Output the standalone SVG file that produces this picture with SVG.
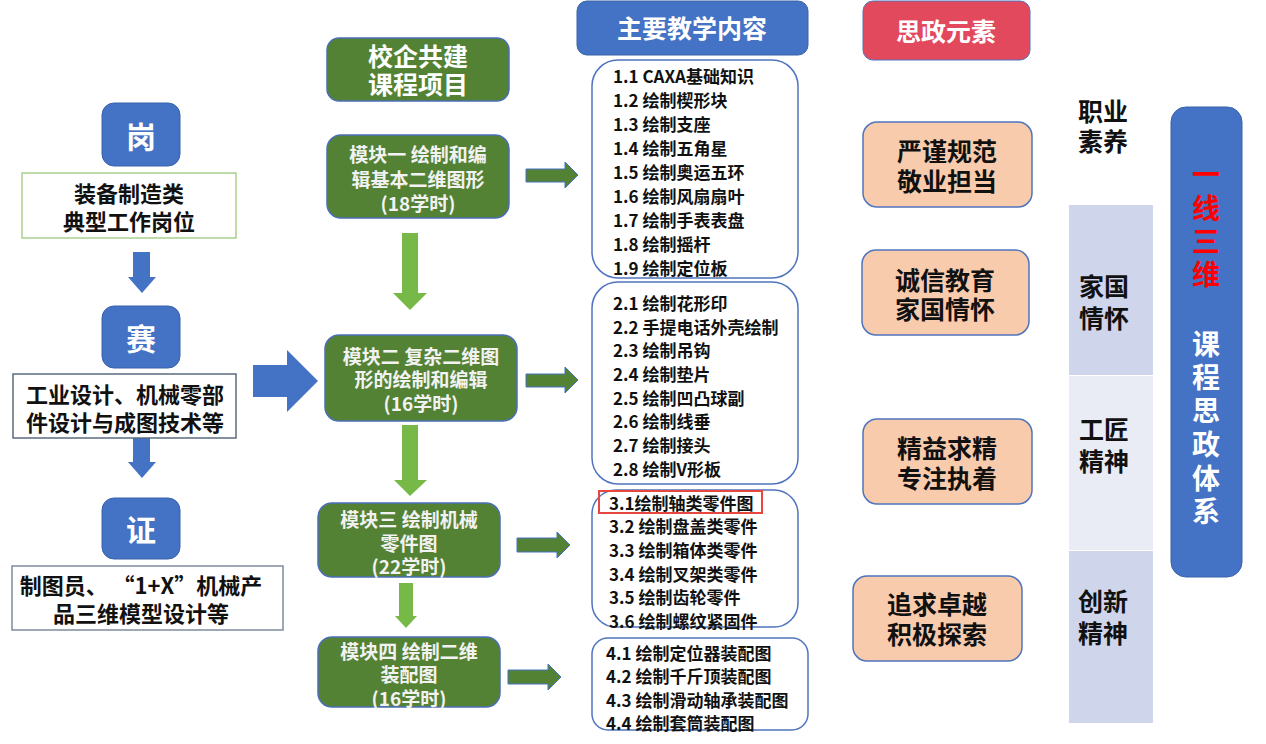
<svg xmlns="http://www.w3.org/2000/svg" width="1266" height="744" viewBox="0 0 1266 744">
<style>
text{font-family:"Noto Sans CJK SC","Microsoft YaHei",sans-serif;font-weight:bold;dominant-baseline:central}
.c{text-anchor:middle}
.bluebox{fill:#4472C4;stroke:#3A62AA;stroke-width:1}
.wt{fill:#FFFFFF}
.mod{fill:#548235;stroke:#4A6FB5;stroke-width:1.5}
.mt{fill:#F2F2F2;font-size:19px}
.hd{fill:#FFFFFF;font-size:25px}
.lst{fill:#FFFFFF;stroke:#4F74BD;stroke-width:1.5}
.lt{fill:#111111;font-size:17px}
.el{fill:#F8CBAD;stroke:#4F74BD;stroke-width:1.5}
.et{fill:#111111;font-size:25px}
.bt{fill:#111111;font-size:22px}
.ga{fill:#548235;stroke:#4472C4;stroke-width:1}
.la{fill:#76B947}
.ba{fill:#4472C4}
.vt{font-size:28px}
</style>

<g id="connectors">
  <polygon class="ba" points="133,252 150,252 150,277 156,277 142,293 128,277 133,277"/>
  <polygon class="ba" points="133,438 150,438 150,462 156,462 142,478 128,462 133,462"/>
  <polygon class="ba" points="253,365 287,365 287,350 318,381 287,412 287,397 253,397"/>
  <polygon class="la" points="402,233 418,233 418,293 427,293 410,310 393,293 402,293"/>
  <polygon class="la" points="402,425 418,425 418,480 427,480 410,496 394,480 402,480"/>
  <polygon class="la" points="399,583 413,583 413,616 417,616 406,628 395,616 399,616"/>
  <polygon class="ga" points="526,169 565,169 565,162 578,175 565,188 565,182 526,182"/>
  <polygon class="ga" points="526,374 565,374 565,367 578,380 565,393 565,387 526,387"/>
  <polygon class="ga" points="517,538 557,538 557,532 570,545 557,558 557,552 517,552"/>
  <polygon class="ga" points="508,670 548,670 548,664 561,677 548,690 548,684 508,684"/>
</g>

<g id="gang">
  <rect class="bluebox" x="102" y="103" width="78" height="63" rx="12"/>
  <text class="c wt" x="141" y="135" font-size="30">岗</text>
</g>
<g id="gang-desc">
  <rect x="22" y="173" width="214" height="65" fill="#FFFFFF" stroke="#A9D18E" stroke-width="1.5"/>
  <text class="c bt" x="129" y="192">装备制造类</text>
  <text class="c bt" x="129" y="220">典型工作岗位</text>
</g>
<g id="sai">
  <rect class="bluebox" x="102" y="306" width="78" height="62" rx="12"/>
  <text class="c wt" x="141" y="337" font-size="30">赛</text>
</g>
<g id="sai-desc">
  <rect x="13" y="374" width="223" height="64" fill="#FFFFFF" stroke="#5B6B80" stroke-width="1.5"/>
  <text class="c bt" x="125" y="393">工业设计、机械零部</text>
  <text class="c bt" x="125" y="421">件设计与成图技术等</text>
</g>
<g id="zheng">
  <rect class="bluebox" x="102" y="498" width="78" height="61" rx="12"/>
  <text class="c wt" x="141" y="528" font-size="30">证</text>
</g>
<g id="zheng-desc">
  <rect x="12" y="566" width="271" height="64" fill="#FFFFFF" stroke="#7F8C9C" stroke-width="1.5"/>
  <text class="c bt" x="141" y="584">制图员、 “1+X”机械产</text>
  <text class="c bt" x="141" y="612">品三维模型设计等</text>
</g>

<g id="xiaoqi">
  <rect class="mod" x="327" y="38" width="182" height="63" rx="12"/>
  <text class="c hd" x="418" y="55">校企共建</text>
  <text class="c hd" x="418" y="83">课程项目</text>
</g>
<g id="module1">
  <rect class="mod" x="327" y="135" width="182" height="83" rx="14"/>
  <text class="c mt" x="418" y="153">模块一 绘制和编</text>
  <text class="c mt" x="418" y="178">辑基本二维图形</text>
  <text class="c mt" x="418" y="202">(18学时)</text>
</g>
<g id="module2">
  <rect class="mod" x="325" y="335" width="192" height="86" rx="14"/>
  <text class="c mt" x="421" y="355">模块二 复杂二维图</text>
  <text class="c mt" x="421" y="378">形的绘制和编辑</text>
  <text class="c mt" x="421" y="402">(16学时)</text>
</g>
<g id="module3">
  <rect class="mod" x="318" y="503" width="182" height="74" rx="14"/>
  <text class="c mt" x="409" y="518">模块三 绘制机械</text>
  <text class="c mt" x="409" y="542">零件图</text>
  <text class="c mt" x="409" y="565">(22学时)</text>
</g>
<g id="module4">
  <rect class="mod" x="318" y="637" width="182" height="70" rx="14"/>
  <text class="c mt" x="409" y="650">模块四 绘制二维</text>
  <text class="c mt" x="409" y="673">装配图</text>
  <text class="c mt" x="409" y="697">(16学时)</text>
</g>

<g id="content-header">
  <rect class="bluebox" x="577" y="1" width="231" height="54" rx="10"/>
  <text class="c hd" x="692" y="27">主要教学内容</text>
</g>
<g id="list1">
  <rect class="lst" x="592" y="60" width="206" height="218" rx="26"/>
  <text class="lt" x="613" y="75">1.1 CAXA基础知识</text>
  <text class="lt" x="613" y="99">1.2 绘制楔形块</text>
  <text class="lt" x="613" y="123">1.3 绘制支座</text>
  <text class="lt" x="613" y="147">1.4 绘制五角星</text>
  <text class="lt" x="613" y="171">1.5 绘制奥运五环</text>
  <text class="lt" x="613" y="195">1.6 绘制风扇扇叶</text>
  <text class="lt" x="613" y="219">1.7 绘制手表表盘</text>
  <text class="lt" x="613" y="243">1.8 绘制摇杆</text>
  <text class="lt" x="613" y="267">1.9 绘制定位板</text>
</g>
<g id="list2">
  <rect class="lst" x="592" y="282" width="206" height="202" rx="26"/>
  <text class="lt" x="613" y="302">2.1 绘制花形印</text>
  <text class="lt" x="613" y="326">2.2 手提电话外壳绘制</text>
  <text class="lt" x="613" y="349">2.3 绘制吊钩</text>
  <text class="lt" x="613" y="373">2.4 绘制垫片</text>
  <text class="lt" x="613" y="397">2.5 绘制凹凸球副</text>
  <text class="lt" x="613" y="420">2.6 绘制线垂</text>
  <text class="lt" x="613" y="444">2.7 绘制接头</text>
  <text class="lt" x="613" y="468">2.8 绘制V形板</text>
</g>
<g id="list3">
  <rect class="lst" x="592" y="490" width="206" height="137" rx="24"/>
  <rect x="599" y="491" width="163" height="22" fill="none" stroke="#E8473F" stroke-width="2"/>
  <text class="lt" x="609" y="502">3.1绘制轴类零件图</text>
  <text class="lt" x="609" y="525">3.2 绘制盘盖类零件</text>
  <text class="lt" x="609" y="549">3.3 绘制箱体类零件</text>
  <text class="lt" x="609" y="573">3.4 绘制叉架类零件</text>
  <text class="lt" x="609" y="596">3.5 绘制齿轮零件</text>
  <text class="lt" x="609" y="620">3.6 绘制螺纹紧固件</text>
</g>
<g id="list4">
  <rect class="lst" x="592" y="638" width="216" height="92" rx="16"/>
  <text class="lt" x="606" y="652">4.1 绘制定位器装配图</text>
  <text class="lt" x="606" y="675">4.2 绘制千斤顶装配图</text>
  <text class="lt" x="606" y="699">4.3 绘制滑动轴承装配图</text>
  <text class="lt" x="606" y="722">4.4 绘制套筒装配图</text>
</g>

<g id="sizheng-header">
  <rect x="863" y="1" width="167" height="59" rx="10" fill="#E2495D" stroke="#4F74BD" stroke-width="1"/>
  <text class="c hd" x="946" y="30">思政元素</text>
</g>
<g id="elem1">
  <rect class="el" x="863" y="122" width="169" height="85" rx="14"/>
  <text class="c et" x="947" y="150">严谨规范</text>
  <text class="c et" x="947" y="180">敬业担当</text>
</g>
<g id="elem2">
  <rect class="el" x="862" y="250" width="167" height="85" rx="14"/>
  <text class="c et" x="945" y="279">诚信教育</text>
  <text class="c et" x="945" y="308">家国情怀</text>
</g>
<g id="elem3">
  <rect class="el" x="863" y="419" width="169" height="85" rx="14"/>
  <text class="c et" x="947" y="447">精益求精</text>
  <text class="c et" x="947" y="477">专注执着</text>
</g>
<g id="elem4">
  <rect class="el" x="853" y="576" width="169" height="85" rx="14"/>
  <text class="c et" x="937" y="603">追求卓越</text>
  <text class="c et" x="937" y="633">积极探索</text>
</g>

<g id="cat-zhiye">
  <text class="c et" x="1103" y="110">职业</text>
  <text class="c et" x="1103" y="140">素养</text>
</g>
<g id="cat-jiaguo">
  <rect x="1069" y="205" width="84" height="170" fill="#CFD5EA"/>
  <text class="c et" x="1104" y="285">家国</text>
  <text class="c et" x="1104" y="317">情怀</text>
</g>
<g id="cat-gongjiang">
  <rect x="1069" y="376" width="84" height="174" fill="#E9EBF5"/>
  <text class="c et" x="1104" y="428">工匠</text>
  <text class="c et" x="1104" y="460">精神</text>
</g>
<g id="cat-chuangxin">
  <rect x="1069" y="551" width="84" height="172" fill="#CFD5EA"/>
  <text class="c et" x="1103" y="600">创新</text>
  <text class="c et" x="1103" y="632">精神</text>
</g>

<g id="system">
  <rect class="bluebox" x="1171" y="107" width="71" height="470" rx="15"/>
  <text class="c vt" x="1206" y="173" fill="#FF0000">一</text>
  <text class="c vt" x="1206" y="207" fill="#FF0000">线</text>
  <text class="c vt" x="1206" y="240" fill="#FF0000">三</text>
  <text class="c vt" x="1206" y="273" fill="#FF0000">维</text>
  <text class="c vt wt" x="1206" y="343">课</text>
  <text class="c vt wt" x="1206" y="376">程</text>
  <text class="c vt wt" x="1206" y="409">思</text>
  <text class="c vt wt" x="1206" y="443">政</text>
  <text class="c vt wt" x="1206" y="477">体</text>
  <text class="c vt wt" x="1206" y="510">系</text>
</g>
</svg>
